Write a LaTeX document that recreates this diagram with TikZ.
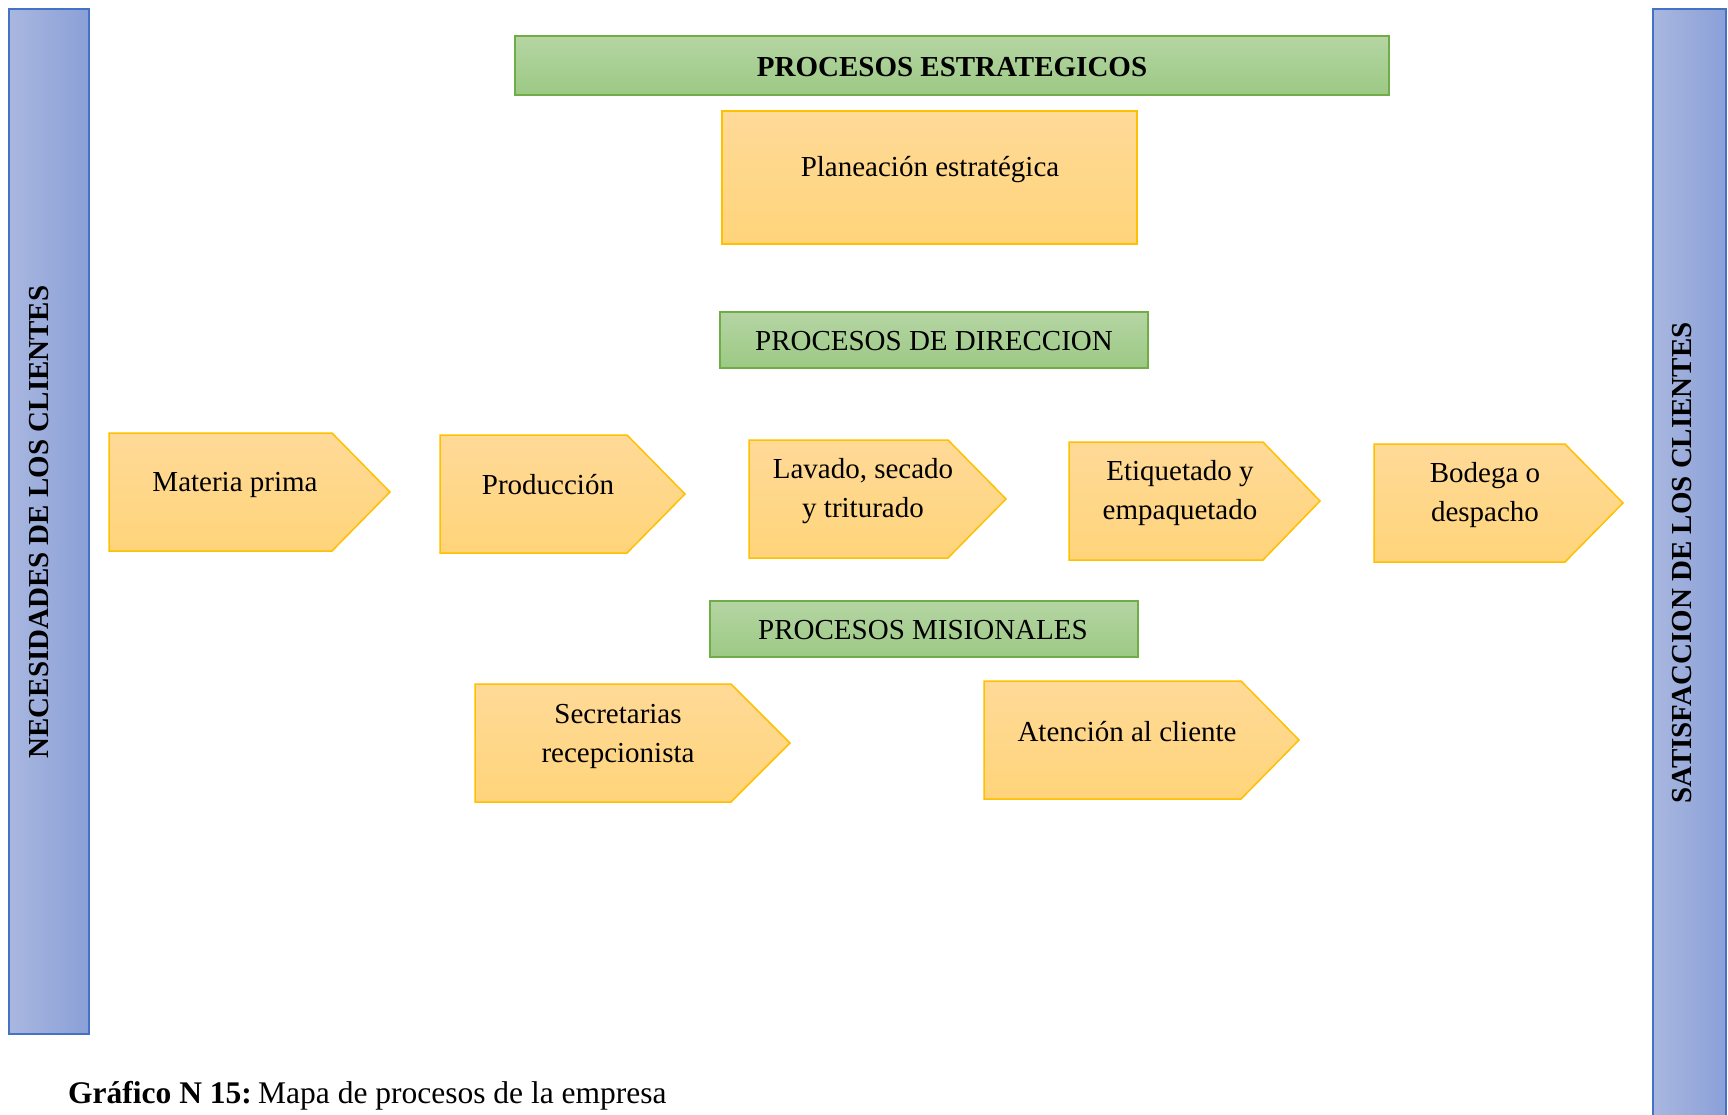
\documentclass[tikz,border=0pt]{standalone}
\usepackage{fontspec}
\setmainfont{Liberation Serif}
\definecolor{grntop}{HTML}{B5D5A3}
\definecolor{grnbot}{HTML}{9CC984}
\definecolor{grnline}{HTML}{70AD47}
\definecolor{orgtop}{HTML}{FFDA98}
\definecolor{orgbot}{HTML}{FFD47A}
\definecolor{orgline}{HTML}{FFC000}
\definecolor{bluel}{HTML}{A9B7E0}
\definecolor{bluer}{HTML}{8AA0D7}
\definecolor{blueline}{HTML}{4472C4}
% pentagon-shaped process arrow: left x, bend x, tip x, top y, bottom y
\newcommand\procshape[5]{%
  \path[orgbox] (#1,#4) -- (#2,#4) -- (#3,{(#4+#5)/2}) -- (#2,#5) -- (#1,#5) -- cycle;}
\begin{document}
\begin{tikzpicture}[x=1pt,y=-1pt,
  grnbox/.style={draw=grnline,line width=1.5pt,top color=grntop,bottom color=grnbot},
  orgbox/.style={draw=orgline,line width=1.5pt,top color=orgtop,bottom color=orgbot},
  bluebar/.style={draw=blueline,line width=1.5pt,left color=bluel,right color=bluer},
  lbl/.style={inner sep=0pt,align=center,font=\fontsize{29}{39}\selectfont},
  side/.style={inner sep=0pt,rotate=90,font=\fontsize{29}{35}\selectfont\bfseries}]
\useasboundingbox (0,0) rectangle (1728,1114);
\fill[white] (0,0) rectangle (1728,1114);

% customer bars
\path[bluebar] (9,9) rectangle (89,1034);
\path[bluebar] (1653,9) rectangle (1726,1125);
\node[side] (nec) at (39,522) {NECESIDADES DE LOS CLIENTES};
\node[side] (sat) at (1682,563) {SATISFACCION DE LOS CLIENTES};

% strategic processes
\path[grnbox] (515,36) rectangle (1389,95);
\node[lbl,font=\fontsize{29}{39}\selectfont\bfseries] (estr) at (952,67) {PROCESOS ESTRATEGICOS};
\path[orgbox] (722,111) rectangle (1137,244);
\node[lbl] (plan) at (930,170) {Planeación estratégica};

% management processes
\path[grnbox] (720,312) rectangle (1148,368);
\node[lbl] (dir) at (934,341) {PROCESOS DE DIRECCION};
\procshape{109}{332}{390}{433}{551}
\node[lbl] (mp) at (235,485) {Materia prima};
\procshape{440}{627}{685}{435}{553}
\node[lbl] (prod) at (548,485) {Producción};
\procshape{749}{948}{1006}{440}{558}
\node[lbl] (lav) at (863,491) {Lavado, secado\\y triturado};
\procshape{1069}{1263}{1320}{442}{560}
\node[lbl] (eti) at (1180,493) {Etiquetado y\\empaquetado};
\procshape{1374}{1565}{1623}{444}{562}
\node[lbl] (bod) at (1485,495) {Bodega o\\despacho};

% mission processes
\path[grnbox] (710,601) rectangle (1138,657);
\node[lbl] (mis) at (923,630) {PROCESOS MISIONALES};
\procshape{475}{731}{790}{684}{802}
\node[lbl] (sec) at (618,736) {Secretarias\\recepcionista};
\procshape{984}{1241}{1299}{681}{799}
\node[lbl] (ate) at (1127,732) {Atención al cliente};

% caption
\node[anchor=base west,inner sep=0pt,font=\fontsize{31.5}{36}\selectfont] (cap) at (68,1103)
  {\textbf{Gráfico N 15:}\hspace{0.2em}Mapa de procesos de la empresa};
\end{tikzpicture}
\end{document}
